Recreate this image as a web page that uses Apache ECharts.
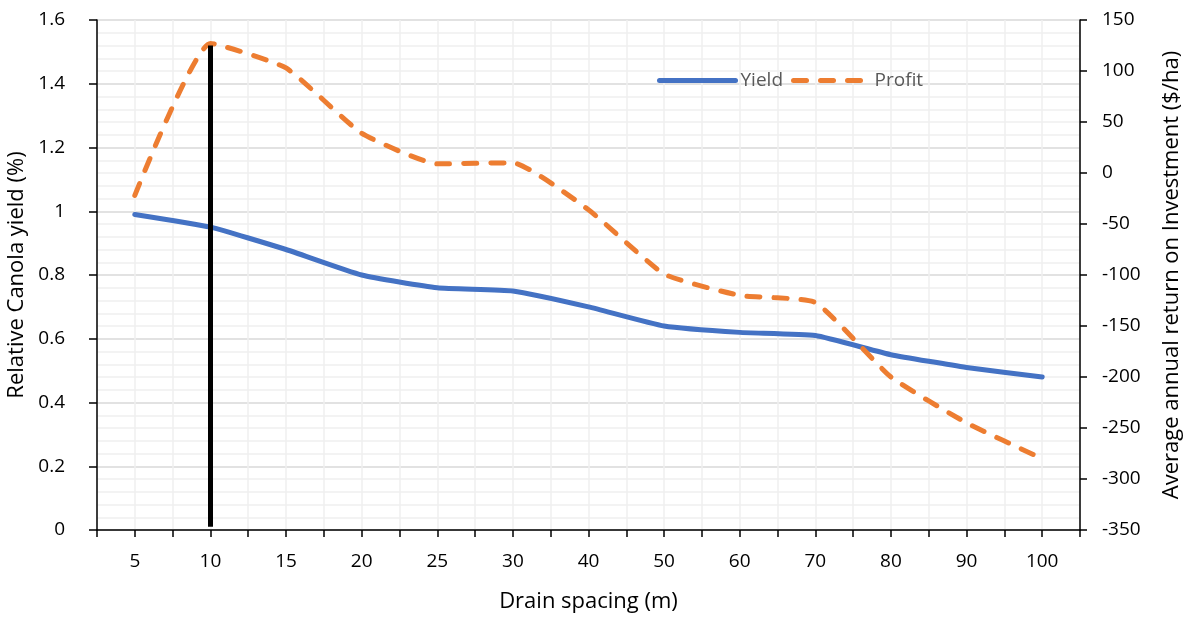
<!DOCTYPE html>
<html>
<head>
<meta charset="utf-8">
<script src="https://cdn.jsdelivr.net/npm/echarts@6/dist/echarts.min.js"></script>
<style>
  html, body { margin: 0; padding: 0; background: #fff; }
  #chart { width: 1190px; height: 617px; }
</style>
</head>
<body>
<div id="chart"></div>
<script>
  // drain spacing (m)
  let spacing = ['5', '10', '15', '20', '25', '30', '40', '50', '60', '70', '80', '90', '100'];
  // relative canola yield
  let yieldValues = [0.99, 0.95, 0.88, 0.80, 0.76, 0.75, 0.70, 0.64, 0.62, 0.61, 0.55, 0.51, 0.48];
  // average annual return ($/ha)
  let profitValues = [-22, 127, 103, 39, 9, 10, -36, -99, -120, -127, -200, -245, -280];
  // optimum marker at 10 m
  let optimumSpacing = '10';
  let optimumRange = [0.01, 1.52];

  let font = 'Open Sans';
  let chart = echarts.init(document.getElementById('chart'));

  chart.setOption({
    animation: false,
    textStyle: { fontFamily: font },
    grid: { left: 97, right: 110, top: 20, bottom: 87, outerBoundsMode: 'none', containLabel: false },
    legend: {
      left: 652,
      top: 66,
      itemWidth: 76,
      itemHeight: 14,
      itemGap: 8,
      itemStyle: { opacity: 0 },
      lineStyle: { width: 5, cap: 'round' },
      textStyle: { fontFamily: font, fontSize: 19, color: '#595959' },
      data: ['Yield', 'Profit']
    },
    xAxis: [{
      type: 'category',
      data: spacing,
      boundaryGap: true,
      name: 'Drain spacing (m)',
      nameLocation: 'middle',
      nameGap: 61,
      nameTextStyle: { fontFamily: font, fontSize: 22, color: '#000' },
      axisLine: { onZero: false, lineStyle: { color: '#000', width: 1.5 } },
      axisTick: { show: false },
      axisLabel: { fontFamily: font, fontSize: 19, color: '#000', margin: 22 },
      splitLine: { show: false }
    }, {
      // half-category ticks and vertical grid
      type: 'value',
      position: 'bottom',
      min: 0,
      max: spacing.length,
      interval: 0.5,
      axisLine: { show: false, onZero: false },
      axisTick: { show: true, length: 7, lineStyle: { color: '#000', width: 1.5 } },
      axisLabel: { show: false },
      splitLine: { show: true, lineStyle: { color: '#efefef', width: 1.5 } }
    }],
    yAxis: [{
      type: 'value',
      min: 0,
      max: 1.6,
      interval: 0.2,
      name: 'Relative Canola yield (%)',
      nameLocation: 'middle',
      nameGap: 66,
      nameTextStyle: { fontFamily: font, fontSize: 22, color: '#000' },
      axisLine: { show: true, lineStyle: { color: '#000', width: 1.5 } },
      axisTick: { show: true, length: 8, lineStyle: { color: '#000', width: 1.5 } },
      axisLabel: { fontFamily: font, fontSize: 19, color: '#000', margin: 32 },
      splitLine: { lineStyle: { color: '#d9d9d9', width: 1.5 } },
      minorTick: { show: false, splitNumber: 5 },
      minorSplitLine: { show: true, lineStyle: { color: '#efefef', width: 1.5 } }
    }, {
      type: 'value',
      min: -350,
      max: 150,
      interval: 50,
      position: 'right',
      name: 'Average annual return on Investment ($/ha)',
      nameLocation: 'middle',
      nameGap: 81,
      nameRotate: 90,
      nameTextStyle: { fontFamily: font, fontSize: 22, color: '#000' },
      axisLine: { show: true, lineStyle: { color: '#000', width: 1.5 } },
      axisTick: { show: true, length: 7, lineStyle: { color: '#000', width: 1.5 } },
      axisLabel: { fontFamily: font, fontSize: 19, color: '#000', margin: 22 },
      splitLine: { show: false }
    }],
    series: [{
      name: 'Yield',
      type: 'line',
      xAxisIndex: 0,
      yAxisIndex: 0,
      data: yieldValues,
      smooth: 0.15,
      symbol: 'none',
      itemStyle: { color: '#4472c4' },
      lineStyle: { color: '#4472c4', width: 5, cap: 'round', join: 'round' },
      markLine: {
        silent: true,
        symbol: 'none',
        label: { show: false },
        lineStyle: { color: '#000', width: 5, type: 'solid' },
        data: [[
          { coord: [optimumSpacing, optimumRange[0]] },
          { coord: [optimumSpacing, optimumRange[1]] }
        ]]
      },
      z: 3
    }, {
      name: 'Profit',
      type: 'line',
      xAxisIndex: 0,
      yAxisIndex: 1,
      data: profitValues,
      smooth: 0.15,
      symbol: 'none',
      itemStyle: { color: '#ed7d31' },
      lineStyle: { color: '#ed7d31', width: 5, type: [13, 14], cap: 'round', join: 'round' },
      z: 4
    }]
  });
</script>
</body>
</html>
